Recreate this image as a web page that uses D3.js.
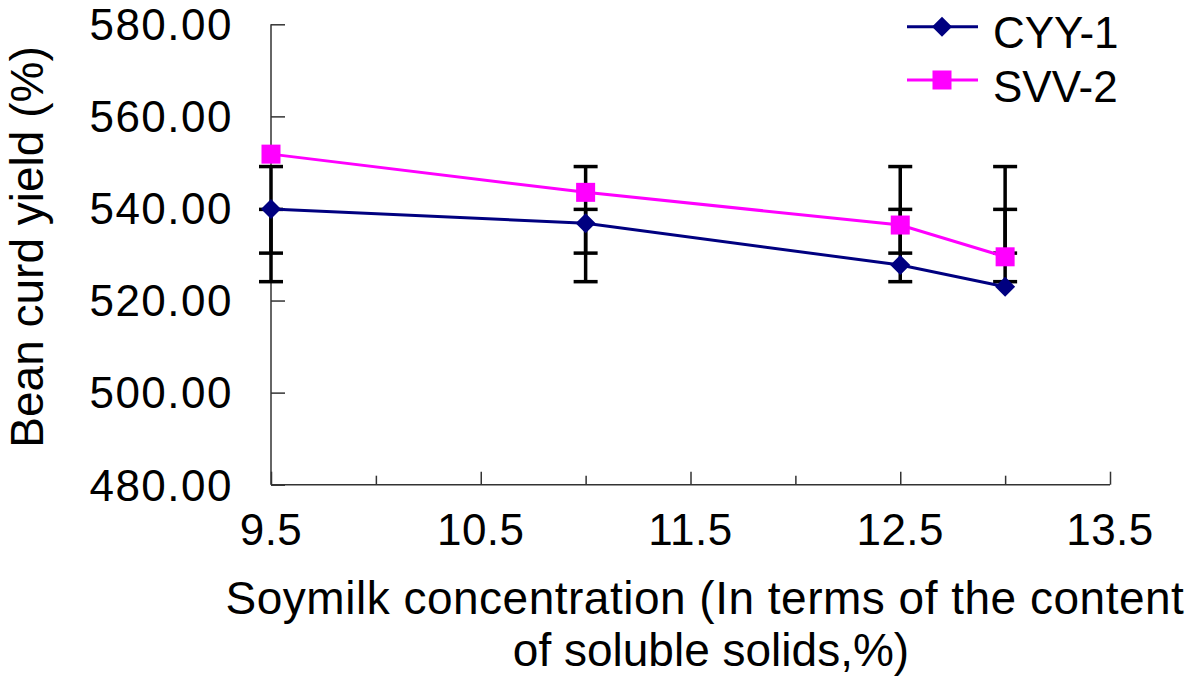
<!DOCTYPE html>
<html><head><meta charset="utf-8">
<script src="https://cdn.jsdelivr.net/npm/d3@7"></script>
<style>
html,body{margin:0;padding:0;background:#fff;}
text{font-family:"Liberation Sans", Arial, sans-serif;fill:#000;}
</style></head>
<body><svg id="chart" width="1200" height="678"></svg>
<script>
const xValues = [9.5, 11.0, 12.5, 13.0];
const cyyValues = [539.9, 536.8, 527.7, 523.0];
const svvValues = [551.8, 543.5, 536.4, 529.5];
const cyyErrLow = [524.1, 524.1, 524.1, 524.1];
const cyyErrHigh = [549.1, 549.1, 549.1, 549.1];
const svvErrLow = [530.3, 530.3, 530.3, 530.3];
const svvErrHigh = [539.8, 539.8, 539.8, 539.8];
const seriesNames = ["CYY-1", "SVV-2"];
const xTicks = [9.5, 10.5, 11.5, 12.5, 13.5];
const xMinorTicks = [10, 11, 12, 13];
const yTicks = [480, 500, 520, 540, 560, 580];
const xTitleLines = ["Soymilk concentration (In terms of the content", "of soluble solids,%)"];
const yTitle = "Bean curd yield (%)";

const svg = d3.select("#chart");
const x = d3.scaleLinear().domain([9.5, 13.5]).range([271, 1110]);
const y = d3.scaleLinear().domain([480, 580]).range([484.7, 24.3]);
const axisColor = "#333";

// y axis (ticks inside)
const yAxis = svg.append("g").attr("transform", `translate(${x(9.5)},0)`)
  .call(d3.axisRight(y).tickValues(yTicks).tickSize(14).tickFormat(""));
yAxis.select(".domain").attr("stroke", axisColor).attr("stroke-width", 1.5).attr("d", `M0,${y(580)}V${y(480)}`);
yAxis.selectAll(".tick line").attr("stroke", axisColor).attr("stroke-width", 1.5);
svg.append("g").selectAll("text").data(yTicks).join("text")
  .attr("x", 233).attr("y", d => y(d)).attr("dy", "0.36em")
  .attr("text-anchor", "end").style("font-size", "44px").style("letter-spacing", "1.5px")
  .text(d => d3.format(".2f")(d));

// x axis (ticks inside, upward)
const xAxis = svg.append("g").attr("transform", `translate(0,${y(480)})`)
  .call(d3.axisTop(x).tickValues(xTicks).tickSize(13).tickFormat(""));
xAxis.select(".domain").attr("stroke", axisColor).attr("stroke-width", 1.5).attr("d", `M${x(9.5)},0H${x(13.5)}`);
xAxis.selectAll(".tick line").attr("stroke", axisColor).attr("stroke-width", 1.5);
const xMinor = svg.append("g").attr("transform", `translate(0,${y(480)})`)
  .call(d3.axisTop(x).tickValues(xMinorTicks).tickSize(9).tickFormat(""));
xMinor.select(".domain").remove();
xMinor.selectAll(".tick line").attr("stroke", axisColor).attr("stroke-width", 1.5);
svg.append("g").selectAll("text").data(xTicks).join("text")
  .attr("x", d => x(d)).attr("y", 545)
  .attr("text-anchor", "middle").style("font-size", "44px").style("letter-spacing", "0.5px")
  .text(d => d3.format(".1f")(d));

// axis titles
const titleCx = [705, 711];
const titleSpacing = ["0.5px", "0px"];
svg.append("g").selectAll("text").data(xTitleLines).join("text")
  .attr("x", (d, i) => titleCx[i]).attr("y", (d, i) => 614 + i * 52)
  .attr("text-anchor", "middle").style("font-size", "46px")
  .style("letter-spacing", (d, i) => titleSpacing[i])
  .text(d => d);
svg.append("text").attr("transform", "translate(43,247) rotate(-90)")
  .attr("text-anchor", "middle").style("font-size", "46px").text(yTitle);

// error bars
const errSets = [[cyyErrLow, cyyErrHigh], [svvErrLow, svvErrHigh]];
const eb = svg.append("g").attr("stroke", "#000").attr("stroke-width", 3.5);
errSets.forEach(([lo, hi]) => {
  xValues.forEach((xv, i) => {
    eb.append("line").attr("x1", x(xv)).attr("x2", x(xv)).attr("y1", y(lo[i])).attr("y2", y(hi[i]));
    [lo[i], hi[i]].forEach(v => {
      eb.append("line").attr("x1", x(xv) - 12).attr("x2", x(xv) + 12).attr("y1", y(v)).attr("y2", y(v));
    });
  });
});

// lines + markers
const series = [
  {name: seriesNames[0], values: cyyValues, color: "#000080", shape: "diamond"},
  {name: seriesNames[1], values: svvValues, color: "#FF00FF", shape: "square"}
];
const line = d3.line().x(d => x(d[0])).y(d => y(d[1]));
function marker(g, shape, color, cx, cy) {
  if (shape === "diamond") {
    g.append("path").attr("d", `M${cx},${cy-10}L${cx+10},${cy}L${cx},${cy+10}L${cx-10},${cy}Z`).attr("fill", color);
  } else {
    g.append("rect").attr("x", cx - 9.5).attr("y", cy - 9.5).attr("width", 19).attr("height", 19).attr("fill", color);
  }
}
series.forEach(s => {
  const pts = xValues.map((xv, i) => [xv, s.values[i]]);
  svg.append("path").datum(pts).attr("d", line).attr("fill", "none")
    .attr("stroke", s.color).attr("stroke-width", 3);
});
series.forEach(s => {
  const g = svg.append("g");
  xValues.forEach((xv, i) => marker(g, s.shape, s.color, x(xv), y(s.values[i])));
});

// legend
const legendY = [26.7, 80];
series.forEach((s, i) => {
  const g = svg.append("g");
  g.append("line").attr("x1", 907).attr("x2", 978).attr("y1", legendY[i]).attr("y2", legendY[i])
    .attr("stroke", s.color).attr("stroke-width", 3);
  marker(g, s.shape, s.color, 942, legendY[i]);
  g.append("text").attr("x", 993).attr("y", legendY[i] + 21.5).style("font-size", "44px").text(s.name);
});
</script></body></html>
